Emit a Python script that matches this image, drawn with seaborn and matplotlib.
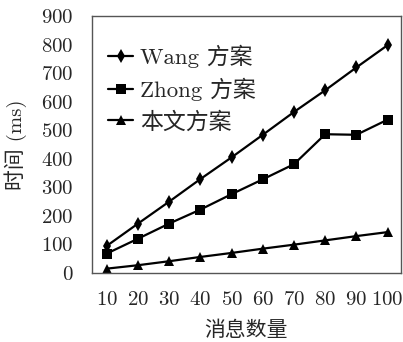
import matplotlib
matplotlib.use('Agg')
import matplotlib.pyplot as plt
import seaborn as sns
import pandas as pd

# datos
msgs = [10, 20, 30, 40, 50, 60, 70, 80, 90, 100]
wang = [95, 173, 250, 329, 405, 484, 564, 640, 720, 798]
zhong = [68, 120, 173, 222, 276, 328, 381, 486, 484, 537]
ours = [15, 27, 41, 56, 70, 85, 99, 114, 129, 143]
names = ['Wang 方案', 'Zhong 方案', '本文方案']

df = pd.DataFrame({'x': msgs * 3,
                   'y': wang + zhong + ours,
                   'scheme': [names[0]] * 10 + [names[1]] * 10 + [names[2]] * 10})

sns.set_style('white')
plt.rcParams['font.family'] = ['cmr10', 'Noto Sans CJK SC', 'DejaVu Sans']
plt.rcParams['axes.formatter.use_mathtext'] = True
plt.rcParams['axes.unicode_minus'] = False

fig = plt.figure(figsize=(4.03, 3.42), dpi=100)
ax = fig.add_axes([0.228, 0.202, 0.767, 0.751])

sns.lineplot(data=df, x='x', y='y', hue='scheme', style='scheme',
             palette=['black'] * 3, markers=['d', 's', '^'], dashes=False,
             linewidth=1.6, markersize=7, markeredgewidth=0, ax=ax)

ax.set_xlim(5.2, 104.3)
ax.set_ylim(0, 900)
ax.set_xticks(msgs)
ax.set_yticks(range(0, 901, 100))
ax.tick_params(direction='in', length=4, width=0.8, labelsize=15,
               top=False, right=False, color='#333333')
ax.tick_params(axis='x', pad=13)
ax.tick_params(axis='y', pad=13)
for s in ax.spines.values():
    s.set_color('#555555')
    s.set_linewidth(1.0)

ax.set_xlabel('消息数量', fontsize=15, labelpad=8)
ax.set_ylabel('时间 (ms)', fontsize=15, labelpad=10)

ax.legend(loc='upper left', frameon=False, fontsize=16.5, handlelength=1.1,
          handletextpad=0.3, labelspacing=0.42, borderaxespad=0.3,
          bbox_to_anchor=(0.0, 0.95))

fig.savefig('out.png', dpi=100)
